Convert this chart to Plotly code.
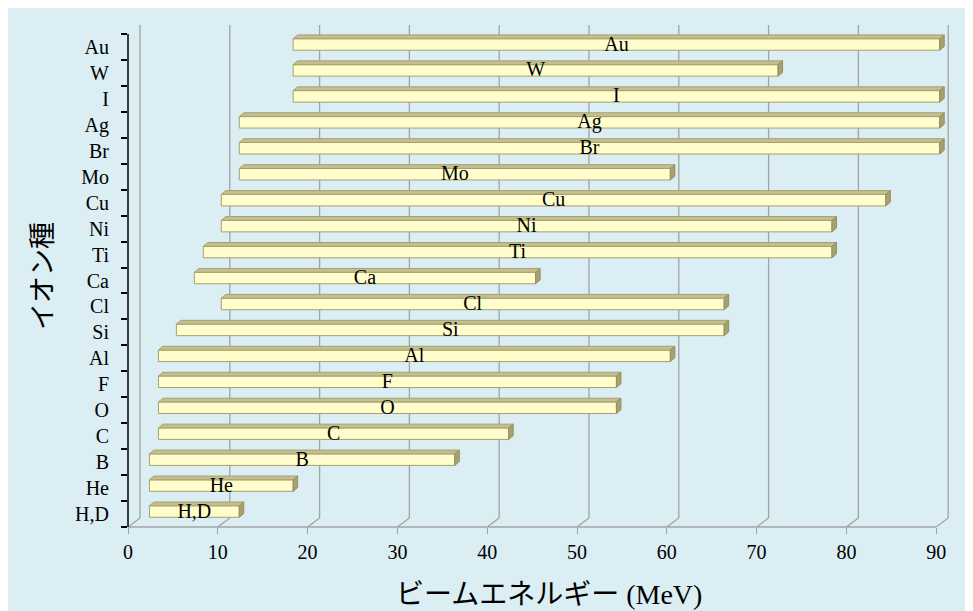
import plotly.graph_objects as go

# ---- data ----
ions = ["H,D", "He", "B", "C", "O", "F", "Al", "Si", "Cl", "Ca",
        "Ti", "Ni", "Cu", "Mo", "Br", "Ag", "I", "W", "Au"]
e_min = [2, 2, 2, 3, 3, 3, 3, 5, 10, 7, 8, 10, 10, 12, 12, 12, 18, 18, 18]
e_max = [12, 18, 36, 42, 54, 54, 60, 66, 66, 45, 78, 78, 84, 60, 90, 90, 90, 72, 90]
x_ticks = [0, 10, 20, 30, 40, 50, 60, 70, 80, 90]

# ---- geometry (page body has an 8px margin) ----
OFF = 8
W, H = 973, 611
ML, MT = 128 - OFF, 25 - OFF
MR = W - (960 - OFF)
MB = H - (527 - OFF)
PW, PH = W - ML - MR, H - MT - MB
PX = 8.98                      # px per MeV
XMAX = PW / PX
DEPTH_X, DEPTH_Y = 12, 9       # back wall offset in px
PY = PH / (19 + DEPTH_Y / 25.95)
YTOP = 18.5 + DEPTH_Y / PY
dxb, dyb = DEPTH_X / PX, DEPTH_Y / PY
fx, fy = 3.5 / PX, 2.5 / PY    # bar front-face offset
fh = 11.5 / PY                 # bar front-face height
ddx, ddy = 4.5 / PX, 3.8 / PY  # bar thickness (3D)

FONT = "Liberation Serif, Times New Roman, Noto Sans CJK JP, serif"
BG = "#DAEEF3"
GRID = "#A3A3A3"

fig = go.Figure()

ypos = [i + fy for i in range(len(ions))]
fig.add_trace(go.Bar(
    orientation="h", y=ypos,
    x=[b - a for a, b in zip(e_min, e_max)],
    base=[a + fx for a in e_min],
    width=fh,
    marker=dict(color="#FFFDCB", line=dict(color="#A8A06C", width=1)),
    hoverinfo="skip", showlegend=False,
))

# top faces and right faces
tx, ty, rx, ry = [], [], [], []
for i, (a, b) in enumerate(zip(e_min, e_max)):
    s, e = a + fx, b + fx
    yt = ypos[i] + fh / 2
    yb = ypos[i] - fh / 2
    tx += [s, e, e + ddx, s + ddx, s, None]
    ty += [yt, yt, yt + ddy, yt + ddy, yt, None]
    rx += [e, e + ddx, e + ddx, e, e, None]
    ry += [yb, yb + ddy, yt + ddy, yt, yb, None]
fig.add_trace(go.Scatter(x=tx, y=ty, mode="lines", fill="toself",
                         fillcolor="#C4BE92", line=dict(color="#A8A06C", width=1),
                         hoverinfo="skip", showlegend=False))
fig.add_trace(go.Scatter(x=rx, y=ry, mode="lines", fill="toself",
                         fillcolor="#A7A070", line=dict(color="#968F5E", width=1),
                         hoverinfo="skip", showlegend=False))

# bar labels
fig.add_trace(go.Scatter(
    x=[(a + b) / 2 + fx for a, b in zip(e_min, e_max)],
    y=[p - 0.04 for p in ypos],
    mode="text", text=ions,
    textfont=dict(family=FONT, size=20, color="black"),
    hoverinfo="skip", showlegend=False,
))

shapes = []
# back wall gridlines with floor diagonals
for v in x_ticks:
    shapes.append(dict(type="line", xref="x", yref="y", x0=v, y0=-0.5,
                       x1=v + dxb, y1=-0.5 + dyb, line=dict(color=GRID, width=1.3),
                       layer="below"))
    shapes.append(dict(type="line", xref="x", yref="y", x0=v + dxb, y0=-0.5 + dyb,
                       x1=v + dxb, y1=YTOP, line=dict(color=GRID, width=1.3),
                       layer="below"))
# x axis line (front)
shapes.append(dict(type="line", xref="x", yref="paper", x0=x_ticks[0], x1=x_ticks[-1],
                   y0=0, y1=0, line=dict(color=GRID, width=1.3)))
# y axis line (front)
shapes.append(dict(type="line", xref="paper", yref="y", x0=0, x1=0,
                   y0=-0.5, y1=18.5, line=dict(color="black", width=1.5)))

fig.update_layout(
    width=W, height=H,
    margin=dict(l=ML, r=MR, t=MT, b=MB, pad=0),
    paper_bgcolor=BG, plot_bgcolor=BG,
    shapes=shapes,
    showlegend=False,
    barmode="overlay",
    xaxis=dict(range=[0, XMAX], tickvals=x_ticks, showgrid=False, zeroline=False,
               showline=False, ticks="outside", ticklen=6, tickwidth=1.3,
               tickcolor=GRID, tickfont=dict(family=FONT, size=20, color="black"),
               ticklabelstandoff=1, fixedrange=True),
    yaxis=dict(range=[-0.5, YTOP], tickvals=list(range(len(ions))), ticktext=ions,
               showgrid=False, zeroline=False, showline=False,
               ticks="outside", ticklen=14, tickcolor="rgba(0,0,0,0)",
               tickfont=dict(family=FONT, size=20, color="black"),
               minor=dict(tickmode="array", tickvals=[i - 0.5 for i in range(len(ions) + 1)],
                          ticks="outside", ticklen=6, tickwidth=1.5, tickcolor="black",
                          showgrid=False),
               fixedrange=True),
    annotations=[
        dict(text="ビームエネルギー (MeV)", xref="paper", yref="paper",
             x=(549 - OFF - ML) / PW, y=(PH + MT - (595 - OFF)) / PH, showarrow=False,
             font=dict(family=FONT, size=28, color="black"),
             xanchor="center", yanchor="middle"),
        dict(text="イオン種", xref="paper", yref="paper", textangle=-90,
             x=(43 - OFF - ML) / PW, y=(PH + MT - (276 - OFF)) / PH, showarrow=False,
             font=dict(family=FONT, size=27, color="black"),
             xanchor="center", yanchor="middle"),
    ],
)

fig.write_html("out.html")
